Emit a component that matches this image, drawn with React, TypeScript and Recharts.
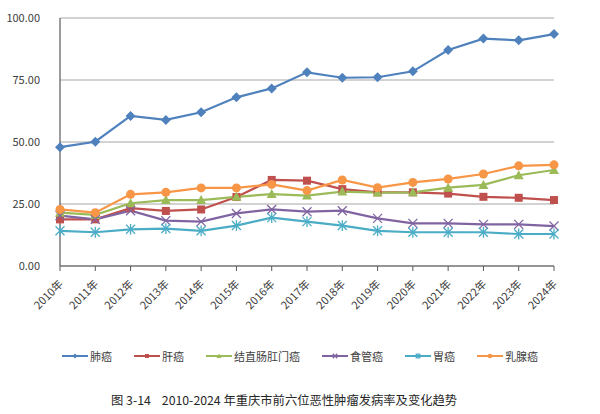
import React from "react";
import { LineChart, Line, XAxis, YAxis, CartesianGrid } from "recharts";

const years = [
  "2010年", "2011年", "2012年", "2013年", "2014年", "2015年", "2016年", "2017年",
  "2018年", "2019年", "2020年", "2021年", "2022年", "2023年", "2024年",
];

const lung = [47.9, 50.1, 60.5, 58.9, 62.0, 68.0, 71.6, 78.1, 75.9, 76.1, 78.5, 87.1, 91.7, 91.0, 93.5];
const liver = [18.8, 18.8, 23.3, 22.2, 22.8, 27.8, 34.7, 34.4, 31.0, 29.7, 29.7, 29.2, 27.9, 27.5, 26.6];
const colorectal = [21.5, 20.6, 25.3, 26.6, 26.6, 27.9, 29.0, 28.4, 30.0, 29.6, 29.7, 31.6, 32.7, 36.6, 38.7];
const esophagus = [20.3, 18.8, 22.3, 18.3, 17.9, 21.2, 22.8, 21.9, 22.3, 19.2, 17.2, 17.2, 16.8, 16.8, 16.1];
const stomach = [14.2, 13.6, 14.8, 15.1, 14.2, 16.3, 19.5, 17.9, 16.3, 14.2, 13.6, 13.6, 13.6, 12.9, 12.9];
const breast = [22.8, 21.5, 28.9, 29.7, 31.5, 31.5, 32.9, 30.4, 34.7, 31.6, 33.7, 35.1, 37.1, 40.4, 40.8];

const yTicks = [0, 25, 50, 75, 100];

const title = "图 3-14\u00a0\u00a0\u00a0\u00a02010-2024 年重庆市前六位恶性肿瘤发病率及变化趋势";

type Shape = "diamond" | "square" | "triangle" | "x" | "star" | "circle";

const series: { key: string; name: string; color: string; shape: Shape; values: number[] }[] = [
  { key: "lung", name: "肺癌", color: "#4F81BD", shape: "diamond", values: lung },
  { key: "liver", name: "肝癌", color: "#C0504D", shape: "square", values: liver },
  { key: "colorectal", name: "结直肠肛门癌", color: "#9BBB59", shape: "triangle", values: colorectal },
  { key: "esophagus", name: "食管癌", color: "#8064A2", shape: "x", values: esophagus },
  { key: "stomach", name: "胃癌", color: "#4BACC6", shape: "star", values: stomach },
  { key: "breast", name: "乳腺癌", color: "#F79646", shape: "circle", values: breast },
];

const data = years.map((year, i) => {
  const row: Record<string, string | number> = { year };
  series.forEach((s) => (row[s.key] = s.values[i]));
  return row;
});

const FONT = '"Noto Sans CJK SC", "Noto Sans", sans-serif';

function Marker({ shape, color, cx, cy, s = 1 }: { shape: Shape; color: string; cx: number; cy: number; s?: number }) {
  switch (shape) {
    case "diamond": {
      const r = 5 * s;
      return <polygon points={`${cx},${cy - r} ${cx + r},${cy} ${cx},${cy + r} ${cx - r},${cy}`} fill={color} />;
    }
    case "square": {
      const r = 4 * s;
      return <rect x={cx - r} y={cy - r} width={2 * r} height={2 * r} fill={color} />;
    }
    case "triangle": {
      const r = 5 * s;
      return <polygon points={`${cx},${cy - r} ${cx + r},${cy + r * 0.8} ${cx - r},${cy + r * 0.8}`} fill={color} />;
    }
    case "x": {
      const r = 4.5 * s;
      return (
        <g stroke={color} strokeWidth={1.3}>
          <line x1={cx - r} y1={cy - r} x2={cx + r} y2={cy + r} />
          <line x1={cx - r} y1={cy + r} x2={cx + r} y2={cy - r} />
        </g>
      );
    }
    case "star": {
      const r = 4.5 * s;
      return (
        <g stroke={color} strokeWidth={1.3}>
          <line x1={cx - r} y1={cy - r} x2={cx + r} y2={cy + r} />
          <line x1={cx - r} y1={cy + r} x2={cx + r} y2={cy - r} />
          <line x1={cx} y1={cy - r * 1.2} x2={cx} y2={cy + r * 1.2} />
        </g>
      );
    }
    default:
      return <circle cx={cx} cy={cy} r={4.5 * s} fill={color} />;
  }
}

const makeDot = (shape: Shape, color: string) => (props: any) => {
  const { cx, cy, index } = props;
  if (cx == null || cy == null) return <g key={`d-${index}`} />;
  return (
    <g key={`d-${shape}-${index}`}>
      <Marker shape={shape} color={color} cx={cx} cy={cy} />
    </g>
  );
};

const XTick = (props: any) => {
  const { x, y, payload } = props;
  return (
    <g transform={`translate(${x + 1},${y + 9})`}>
      <text
        transform="rotate(-45)"
        textAnchor="end"
        dy={4}
        fontSize={11}
        fill="#404040"
        fontFamily={FONT}
      >
        {payload.value}
      </text>
    </g>
  );
};

export default function App() {
  return (
    <div
      style={{
        position: "absolute",
        left: 0,
        top: 0,
        width: 600,
        height: 414,
        background: "#fff",
        fontFamily: FONT,
      }}
    >
      <LineChart
        width={600}
        height={340}
        data={data}
        margin={{ top: 18, right: 46, left: 0, bottom: 0 }}
      >
        <CartesianGrid vertical={false} stroke="#a6a6a6" strokeWidth={1} />
        <XAxis
          dataKey="year"
          height={74}
          interval={0}
          tick={<XTick />}
          tickSize={5}
          axisLine={{ stroke: "#595959", strokeWidth: 1.2 }}
          tickLine={{ stroke: "#595959" }}
        />
        <YAxis
          width={60}
          domain={[0, 100]}
          ticks={yTicks}
          tickFormatter={(v: number) => v.toFixed(2)}
          axisLine={{ stroke: "#595959", strokeWidth: 1.2 }}
          tickLine={false}
          tickMargin={14}
          tick={{ fontSize: 11, fill: "#404040", fontFamily: FONT }}
        />
        {series.map((s) => (
          <Line
            key={s.key}
            dataKey={s.key}
            name={s.name}
            stroke={s.color}
            strokeWidth={2.2}
            dot={makeDot(s.shape, s.color)}
            activeDot={false}
            isAnimationActive={false}
          />
        ))}
      </LineChart>
      <div
        style={{
          position: "absolute",
          top: 348,
          left: 0,
          width: 600,
          display: "flex",
          justifyContent: "center",
          alignItems: "center",
          fontSize: 11,
          color: "#404040",
        }}
      >
        {series.map((s) => (
          <div key={s.key} style={{ display: "flex", alignItems: "center", margin: "0 11px" }}>
            <svg width={26} height={10} style={{ marginRight: 2 }}>
              <line x1={0} y1={5} x2={26} y2={5} stroke={s.color} strokeWidth={2} />
              <Marker shape={s.shape} color={s.color} cx={13} cy={5} s={0.5} />
            </svg>
            <span>{s.name}</span>
          </div>
        ))}
      </div>
      <div
        style={{
          position: "absolute",
          top: 391,
          left: 111,
          whiteSpace: "nowrap",
          fontSize: 12.3,
          color: "#262626",
        }}
      >
        {title}
      </div>
    </div>
  );
}
